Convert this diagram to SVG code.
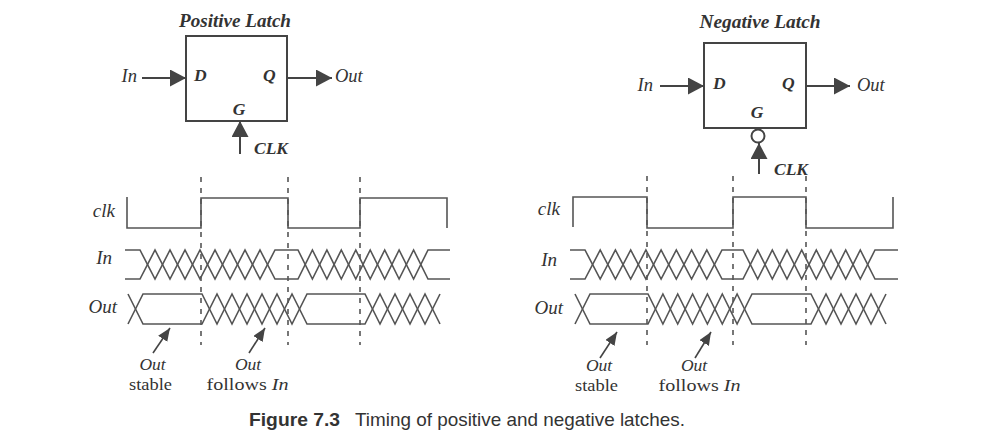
<svg xmlns="http://www.w3.org/2000/svg" width="1001" height="448" viewBox="0 0 1001 448">
<style>
.bg{fill:#fff}
.box{fill:none;stroke:#444;stroke-width:2}
.wire{fill:none;stroke:#444;stroke-width:2}
.wave{fill:none;stroke:#555;stroke-width:1.6;stroke-linejoin:miter}
.dash{fill:none;stroke:#555;stroke-width:1.6;stroke-dasharray:5 6}
.ann{fill:none;stroke:#444;stroke-width:1.6}
.t{font-family:"Liberation Serif","Times New Roman",serif;fill:#333}
.it{font-style:italic}
.bi{font-style:italic;font-weight:bold}
.cap{font-family:"Liberation Sans",Arial,sans-serif;fill:#333}
</style>
<defs>
<marker id="ah" markerUnits="userSpaceOnUse" markerWidth="18" markerHeight="18" refX="16" refY="8.5" orient="auto">
<path d="M0,0 L16,8.5 L0,17 Z" fill="#444"/>
</marker>
<marker id="ahs" markerUnits="userSpaceOnUse" markerWidth="14" markerHeight="12" refX="13" refY="5.5" orient="auto">
<path d="M0,0 L13,5.5 L0,11 Z" fill="#444"/>
</marker>
</defs>
<rect class="bg" x="0" y="0" width="1001" height="448"/>

<g id="positive-latch">
<text class="t bi" x="235" y="27" font-size="18" text-anchor="middle" textLength="112" lengthAdjust="spacingAndGlyphs">Positive Latch</text>
<rect class="box" x="186" y="36" width="101" height="85"/>
<text class="t bi" x="194" y="81" font-size="17.5">D</text>
<text class="t bi" x="263" y="81" font-size="17.5">Q</text>
<text class="t bi" x="239" y="115" font-size="17.5" text-anchor="middle">G</text>
</g>
<g id="pos-in-label"><text class="t it" x="137" y="82" font-size="18.5" text-anchor="end">In</text></g>
<g id="pos-out-label"><text class="t it" x="335" y="82" font-size="18.5">Out</text></g>
<g id="pos-clk-label"><text class="t bi" x="254" y="154" font-size="17.5">CLK</text></g>

<g id="negative-latch">
<text class="t bi" x="760" y="28" font-size="18" text-anchor="middle" textLength="121" lengthAdjust="spacingAndGlyphs">Negative Latch</text>
<rect class="box" x="704" y="43" width="102" height="85"/>
<text class="t bi" x="713" y="89" font-size="17.5">D</text>
<text class="t bi" x="782" y="89" font-size="17.5">Q</text>
<text class="t bi" x="757" y="118" font-size="17.5" text-anchor="middle">G</text>
<circle cx="758" cy="136" r="6.5" fill="#fff" stroke="#444" stroke-width="2"/>
</g>
<g id="neg-in-label"><text class="t it" x="653" y="91" font-size="18.5" text-anchor="end">In</text></g>
<g id="neg-out-label"><text class="t it" x="857" y="91" font-size="18.5">Out</text></g>
<g id="neg-clk-label"><text class="t bi" x="774" y="175" font-size="17.5">CLK</text></g>

<g id="connectors">
<line class="wire" x1="142" y1="78" x2="186" y2="78" marker-end="url(#ah)"/>
<line class="wire" x1="287" y1="78" x2="332" y2="78" marker-end="url(#ah)"/>
<line class="wire" x1="240" y1="154" x2="240" y2="121" marker-end="url(#ah)"/>
<line class="wire" x1="660" y1="86" x2="704" y2="86" marker-end="url(#ah)"/>
<line class="wire" x1="806" y1="86" x2="850" y2="86" marker-end="url(#ah)"/>
<line class="wire" x1="759" y1="174" x2="759" y2="143" marker-end="url(#ah)"/>
<line class="ann" x1="153" y1="353" x2="170" y2="328" marker-end="url(#ahs)"/>
<line class="ann" x1="249" y1="353" x2="265" y2="328" marker-end="url(#ahs)"/>
<line class="ann" x1="600" y1="358" x2="617" y2="332" marker-end="url(#ahs)"/>
<line class="ann" x1="695" y1="358" x2="711" y2="332" marker-end="url(#ahs)"/>
</g>

<g id="pos-timing">
<line class="dash" x1="201" y1="177" x2="201" y2="345"/>
<line class="dash" x1="288" y1="177" x2="288" y2="345"/>
<line class="dash" x1="360" y1="177" x2="360" y2="345"/>
<text class="t it" x="115" y="217" font-size="19" text-anchor="end">clk</text>
<text class="t it" x="112" y="264" font-size="19" text-anchor="end">In</text>
<text class="t it" x="117" y="313" font-size="19" text-anchor="end">Out</text>
<path class="wave" d="M127,197 V228 H201 V198 H288 V228 H360 V198 H447 V228"/>
<polyline class="wave" points="125,250 140,250 155,279 170,250 185,279 200,250 215,279 230,250 245,279 260,250 275,279 298,279 312.4,250 326.9,279 341.3,250 355.8,279 370.2,250 384.7,279 399.1,250 413.6,279 428,250 450,250"/>
<polyline class="wave" points="125,279 140,279 155,250 170,279 185,250 200,279 215,250 230,279 245,250 260,279 275,250 298,250 312.4,279 326.9,250 341.3,279 355.8,250 370.2,279 384.7,250 399.1,279 413.6,250 428,279 450,279"/>
<polyline class="wave" points="128,294 143,324 202,324 217,294 232,324 247,294 262,324 277,294 292,324 307,294 365,294 380,324 395,294 410,324 425,294 440,324"/>
<polyline class="wave" points="128,324 143,294 202,294 217,324 232,294 247,324 262,294 277,324 292,294 307,324 365,324 380,294 395,324 410,294 425,324 440,294"/>
<text class="t it" x="152.5" y="370" font-size="17.5" text-anchor="middle">Out</text>
<text class="t" x="150.5" y="389.5" font-size="17.5" text-anchor="middle" textLength="43" lengthAdjust="spacingAndGlyphs">stable</text>
<text class="t it" x="248" y="370" font-size="17.5" text-anchor="middle">Out</text>
<text class="t" x="247.5" y="389.5" font-size="17.5" text-anchor="middle" textLength="82" lengthAdjust="spacingAndGlyphs">follows <tspan class="it">In</tspan></text>
</g>

<g id="neg-timing">
<line class="dash" x1="647" y1="176" x2="647" y2="345"/>
<line class="dash" x1="733" y1="176" x2="733" y2="345"/>
<line class="dash" x1="806" y1="176" x2="806" y2="345"/>
<text class="t it" x="560" y="215" font-size="19" text-anchor="end">clk</text>
<text class="t it" x="557" y="266" font-size="19" text-anchor="end">In</text>
<text class="t it" x="563" y="314" font-size="19" text-anchor="end">Out</text>
<path class="wave" d="M573,227 V197 H647 V228 H733 V197 H806 V228 H893 V197"/>
<polyline class="wave" points="570,250 585,250 600.2,279 615.4,250 630.7,279 645.9,250 661.1,279 676.3,250 691.6,279 706.8,250 722,279 743,279 757.7,250 772.3,279 787,250 801.7,279 816.3,250 831,279 845.7,250 860.3,279 875,250 898,250"/>
<polyline class="wave" points="570,279 585,279 600.2,250 615.4,279 630.7,250 645.9,279 661.1,250 676.3,279 691.6,250 706.8,279 722,250 743,250 757.7,279 772.3,250 787,279 801.7,250 816.3,279 831,250 845.7,279 860.3,250 875,279 898,279"/>
<polyline class="wave" points="575,294 590,324 648,324 662.9,294 677.7,324 692.6,294 707.4,324 722.3,294 737.1,324 752,294 811,294 826,324 841,294 856,324 871,294 886,324"/>
<polyline class="wave" points="575,324 590,294 648,294 662.9,324 677.7,294 692.6,324 707.4,294 722.3,324 737.1,294 752,324 811,324 826,294 841,324 856,294 871,324 886,294"/>
<text class="t it" x="599" y="371" font-size="17.5" text-anchor="middle">Out</text>
<text class="t" x="596.5" y="390.5" font-size="17.5" text-anchor="middle" textLength="43" lengthAdjust="spacingAndGlyphs">stable</text>
<text class="t it" x="694" y="371" font-size="17.5" text-anchor="middle">Out</text>
<text class="t" x="699.5" y="390.5" font-size="17.5" text-anchor="middle" textLength="82" lengthAdjust="spacingAndGlyphs">follows <tspan class="it">In</tspan></text>
</g>

<g id="caption">
<text class="cap" x="249" y="426" font-size="18.5" font-weight="bold" textLength="91" lengthAdjust="spacingAndGlyphs">Figure 7.3</text>
<text class="cap" x="355" y="426" font-size="18.5" textLength="330" lengthAdjust="spacingAndGlyphs">Timing of positive and negative latches.</text>
</g>
</svg>
